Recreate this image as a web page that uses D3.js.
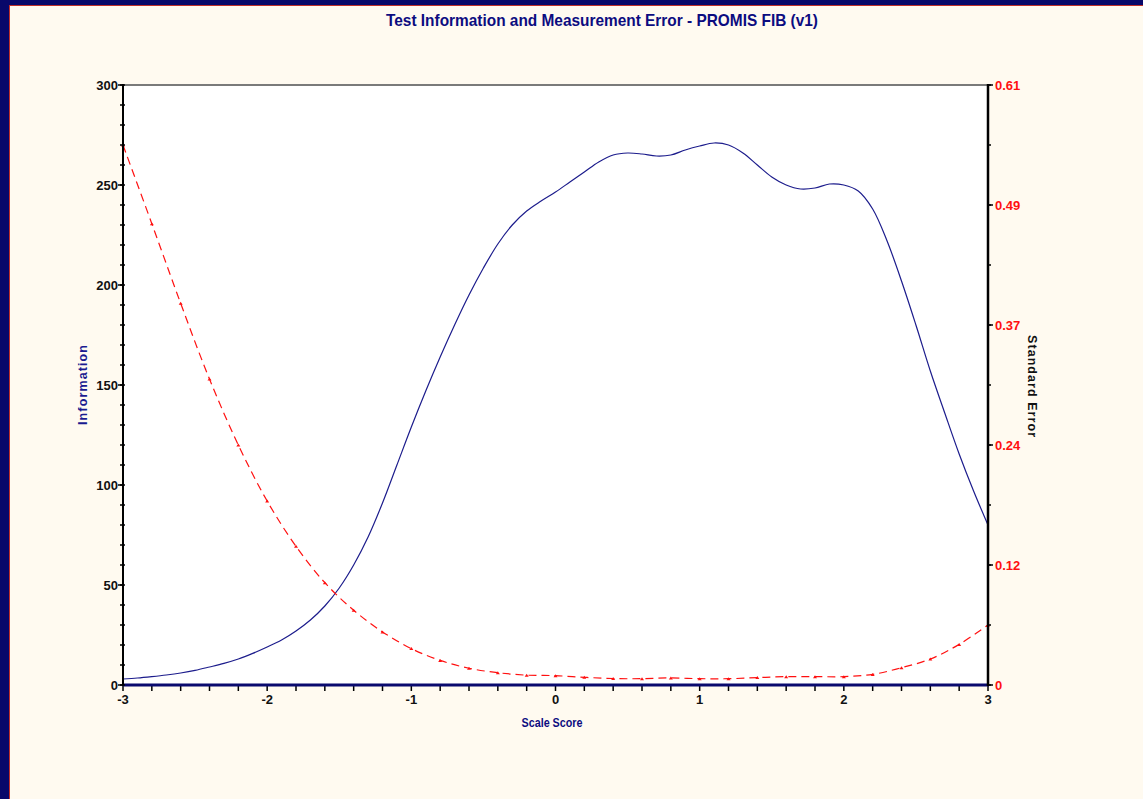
<!DOCTYPE html>
<html>
<head>
<meta charset="utf-8">
<script src="https://cdn.jsdelivr.net/npm/d3@7"></script>
<style>
    html, body { margin: 0; padding: 0; background: #fffaf0; }
    #chart { width: 1143px; height: 799px; }
    text { font-family: "Liberation Sans Narrow", "Arial Narrow", "Liberation Sans", Arial, sans-serif; font-weight: bold; }
</style>
</head>
<body>
<div id="chart"></div>
<script>
// scale score grid for the information curve
const infoScores = [-3.0, -2.9, -2.8, -2.7, -2.6, -2.5, -2.4, -2.3, -2.2, -2.1,
    -2.0, -1.9, -1.8, -1.7, -1.6, -1.5, -1.4, -1.3, -1.2, -1.1,
    -1.0, -0.9, -0.8, -0.7, -0.6, -0.5, -0.4, -0.3, -0.2, -0.1,
    0.0, 0.1, 0.2, 0.3, 0.4, 0.5, 0.6, 0.7, 0.8, 0.9,
    1.0, 1.1, 1.2, 1.3, 1.4, 1.5, 1.6, 1.7, 1.8, 1.9,
    2.0, 2.1, 2.2, 2.3, 2.4, 2.5, 2.6, 2.7, 2.8, 2.9, 3.0]
const infoValues = [3, 3.5, 4.2, 5, 6, 7.3, 9, 10.8, 13, 15.8,
    19, 22.5, 27, 32.5, 39.5, 48.5, 60, 74, 91, 110,
    129, 147, 164, 180, 195, 208.5, 220.5, 230, 237, 242,
    246.5, 251.5, 256.5, 261.5, 265, 266, 265.5, 264.5, 265, 267.5,
    269.5, 271, 270, 266, 260, 254, 250, 248, 248.5, 250.5,
    250, 247, 238, 222, 202, 180, 157, 136, 115.5, 97, 80]

// standard error, read at every 0.2
const seScores = [-3.0, -2.8, -2.6, -2.4, -2.2, -2.0, -1.8, -1.6, -1.4, -1.2,
    -1.0, -0.8, -0.6, -0.4, -0.2, 0.0, 0.2, 0.4, 0.6, 0.8,
    1.0, 1.2, 1.4, 1.6, 1.8, 2.0, 2.2, 2.4, 2.6, 2.8, 3.0]
const seValues = [0.549, 0.469, 0.388, 0.311, 0.244, 0.187, 0.141, 0.104, 0.076, 0.054,
    0.037, 0.025, 0.017, 0.0125, 0.010, 0.0095, 0.0078, 0.0066, 0.0064, 0.0072,
    0.0064, 0.0064, 0.0075, 0.0085, 0.0085, 0.0085, 0.0108, 0.0176, 0.0264, 0.0413, 0.061]

const xTicks = [-3, -2, -1, 0, 1, 2, 3]
const infoTicks = [0, 50, 100, 150, 200, 250, 300]
const seTicks = [0, 0.122, 0.244, 0.366, 0.488, 0.61]
const seTickLabels = ["0", "0.12", "0.24", "0.37", "0.49", "0.61"]

const chartTitle = "Test Information and Measurement Error - PROMIS FIB (v1)"

class InfoErrorChart {
    constructor(parentElement) {
        this.parentElement = parentElement;
        this.initVis()
    }

    initVis() {
        let vis = this;

        vis.width = 1143;
        vis.height = 799;
        vis.plot = {left: 123, right: 988, top: 85, bottom: 685};

        vis.svg = d3.select("#" + vis.parentElement).append("svg")
            .attr("width", vis.width)
            .attr("height", vis.height)
            .style("display", "block")

        // page background and the navy frame top / left
        vis.svg.append("rect")
            .attr("width", vis.width).attr("height", vis.height)
            .attr("fill", "#fffaf0")
        vis.svg.append("rect")
            .attr("width", vis.width).attr("height", 5)
            .attr("fill", "#08086a")
        vis.svg.append("rect")
            .attr("width", 9).attr("height", vis.height)
            .attr("fill", "#08086a")
        vis.svg.append("line")
            .attr("x1", 9).attr("x2", vis.width).attr("y1", 5.5).attr("y2", 5.5)
            .attr("stroke", "#c0302a").attr("stroke-width", 1)
        vis.svg.append("line")
            .attr("x1", 9.5).attr("x2", 9.5).attr("y1", 5).attr("y2", vis.height)
            .attr("stroke", "#c0302a").attr("stroke-width", 1)

        // plot area
        vis.svg.append("rect")
            .attr("x", vis.plot.left).attr("y", vis.plot.top)
            .attr("width", vis.plot.right - vis.plot.left)
            .attr("height", vis.plot.bottom - vis.plot.top)
            .attr("fill", "white")

        vis.x = d3.scaleLinear().domain([-3, 3]).range([vis.plot.left, vis.plot.right])
        vis.yInfo = d3.scaleLinear().domain([0, 300]).range([vis.plot.bottom, vis.plot.top])
        vis.ySE = d3.scaleLinear().domain([0, 0.61]).range([vis.plot.bottom, vis.plot.top])

        vis.wrangleData()
    }

    wrangleData() {
        let vis = this;
        vis.infoData = infoScores.map((s, i) => ({score: s, value: infoValues[i]}))
        vis.seData = seScores.map((s, i) => ({score: s, value: seValues[i]}))
        vis.updateVis()
    }

    updateVis() {
        let vis = this;

        // top border of the plot
        vis.svg.append("line")
            .attr("x1", vis.plot.left).attr("x2", vis.plot.right)
            .attr("y1", vis.plot.top).attr("y2", vis.plot.top)
            .attr("stroke", "#7a7a7a").attr("stroke-width", 2)

        // information curve
        let infoLine = d3.line()
            .x(d => vis.x(d.score))
            .y(d => vis.yInfo(d.value))
            .curve(d3.curveCatmullRom)
        vis.svg.append("path")
            .datum(vis.infoData)
            .attr("d", infoLine)
            .attr("fill", "none")
            .attr("stroke", "#1c1c8c")
            .attr("stroke-width", 1.2)

        // standard error curve, dashed with small markers
        let seLine = d3.line()
            .x(d => vis.x(d.score))
            .y(d => vis.ySE(d.value))
            .curve(d3.curveCatmullRom)
        vis.svg.append("path")
            .datum(vis.seData)
            .attr("d", seLine)
            .attr("fill", "none")
            .attr("stroke", "#ff1010")
            .attr("stroke-width", 1.2)
            .attr("stroke-dasharray", "8,5")

        vis.svg.selectAll(".seMarks")
            .data(vis.seData)
            .enter()
            .append("path")
            .attr("class", "seMarks")
            .attr("transform", d => `translate(${vis.x(d.score)}, ${vis.ySE(d.value)})`)
            .attr("d", "M-2,1.5L0,-1.5L2,1.5Z")
            .attr("fill", "#ff1010")

        // bottom axis
        let xMinor = d3.range(-3, 3.001, 0.2)
        vis.svg.selectAll(".xMinor")
            .data(xMinor)
            .enter()
            .append("line")
            .attr("class", "xMinor")
            .attr("x1", d => vis.x(d)).attr("x2", d => vis.x(d))
            .attr("y1", vis.plot.bottom).attr("y2", vis.plot.bottom + 6)
            .attr("stroke", "black").attr("stroke-width", 1.5)
        vis.svg.selectAll(".xLabels")
            .data(xTicks)
            .enter()
            .append("text")
            .attr("class", "xLabels")
            .attr("x", d => vis.x(d))
            .attr("y", vis.plot.bottom + 19)
            .attr("text-anchor", "middle")
            .attr("font-size", 13)
            .attr("fill", "#111")
            .text(d => d)
        vis.svg.append("line")
            .attr("x1", vis.plot.left).attr("x2", vis.plot.right + 1)
            .attr("y1", vis.plot.bottom).attr("y2", vis.plot.bottom)
            .attr("stroke", "#0a0a6e").attr("stroke-width", 3)

        // left axis
        let infoMinor = d3.range(0, 301, 10)
        vis.svg.selectAll(".yMinor")
            .data(infoMinor)
            .enter()
            .append("line")
            .attr("class", "yMinor")
            .attr("x1", vis.plot.left - 3).attr("x2", vis.plot.left + 2)
            .attr("y1", d => vis.yInfo(d)).attr("y2", d => vis.yInfo(d))
            .attr("stroke", "black").attr("stroke-width", 1.5)
        vis.svg.selectAll(".yMajor")
            .data(infoTicks)
            .enter()
            .append("line")
            .attr("class", "yMajor")
            .attr("x1", vis.plot.left - 5).attr("x2", vis.plot.left)
            .attr("y1", d => vis.yInfo(d)).attr("y2", d => vis.yInfo(d))
            .attr("stroke", "black").attr("stroke-width", 1.5)
        vis.svg.selectAll(".yLabels")
            .data(infoTicks)
            .enter()
            .append("text")
            .attr("class", "yLabels")
            .attr("x", vis.plot.left - 5)
            .attr("y", d => vis.yInfo(d) + 4.5)
            .attr("text-anchor", "end")
            .attr("font-size", 13)
            .attr("fill", "#111")
            .text(d => d)
        vis.svg.append("line")
            .attr("x1", vis.plot.left).attr("x2", vis.plot.left)
            .attr("y1", vis.plot.top - 1).attr("y2", vis.plot.bottom)
            .attr("stroke", "black").attr("stroke-width", 2)

        // right axis
        let seMinor = d3.range(0, 0.611, 0.061)
        vis.svg.selectAll(".seMinor")
            .data(seMinor)
            .enter()
            .append("line")
            .attr("class", "seMinor")
            .attr("x1", vis.plot.right).attr("x2", vis.plot.right + 3)
            .attr("y1", d => vis.ySE(d)).attr("y2", d => vis.ySE(d))
            .attr("stroke", "black").attr("stroke-width", 1.5)
        vis.svg.selectAll(".seMajor")
            .data(seTicks)
            .enter()
            .append("line")
            .attr("class", "seMajor")
            .attr("x1", vis.plot.right).attr("x2", vis.plot.right + 5)
            .attr("y1", d => vis.ySE(d)).attr("y2", d => vis.ySE(d))
            .attr("stroke", "black").attr("stroke-width", 1.5)
        vis.svg.selectAll(".seLabels")
            .data(seTicks)
            .enter()
            .append("text")
            .attr("class", "seLabels")
            .attr("x", vis.plot.right + 7)
            .attr("y", d => vis.ySE(d) + 4.5)
            .attr("text-anchor", "start")
            .attr("font-size", 13)
            .attr("fill", "#ff1010")
            .text((d, i) => seTickLabels[i])
        vis.svg.append("line")
            .attr("x1", vis.plot.right).attr("x2", vis.plot.right)
            .attr("y1", vis.plot.top - 1).attr("y2", vis.plot.bottom + 1)
            .attr("stroke", "black").attr("stroke-width", 2.5)

        // title and axis titles
        vis.svg.append("text")
            .attr("x", 602)
            .attr("y", 26)
            .attr("text-anchor", "middle")
            .attr("font-size", 17)
            .attr("fill", "#0c0c80")
            .attr("textLength", 432)
            .attr("lengthAdjust", "spacingAndGlyphs")
            .text(chartTitle)

        vis.svg.append("text")
            .attr("x", 552)
            .attr("y", 727)
            .attr("text-anchor", "middle")
            .attr("font-size", 12.5)
            .attr("fill", "#0c0c80")
            .attr("textLength", 61)
            .attr("lengthAdjust", "spacingAndGlyphs")
            .text("Scale Score")

        vis.svg.append("text")
            .attr("transform", "translate(87, 385) rotate(-90)")
            .attr("text-anchor", "middle")
            .attr("font-size", 12.5)
            .attr("fill", "#1a1a90")
            .attr("textLength", 80)
            .attr("lengthAdjust", "spacing")
            .text("Information")

        vis.svg.append("text")
            .attr("transform", "translate(1028, 386) rotate(90)")
            .attr("text-anchor", "middle")
            .attr("font-size", 12.5)
            .attr("fill", "#111")
            .attr("textLength", 102)
            .attr("lengthAdjust", "spacing")
            .text("Standard Error")
    }
}

new InfoErrorChart("chart")
</script>
</body>
</html>
